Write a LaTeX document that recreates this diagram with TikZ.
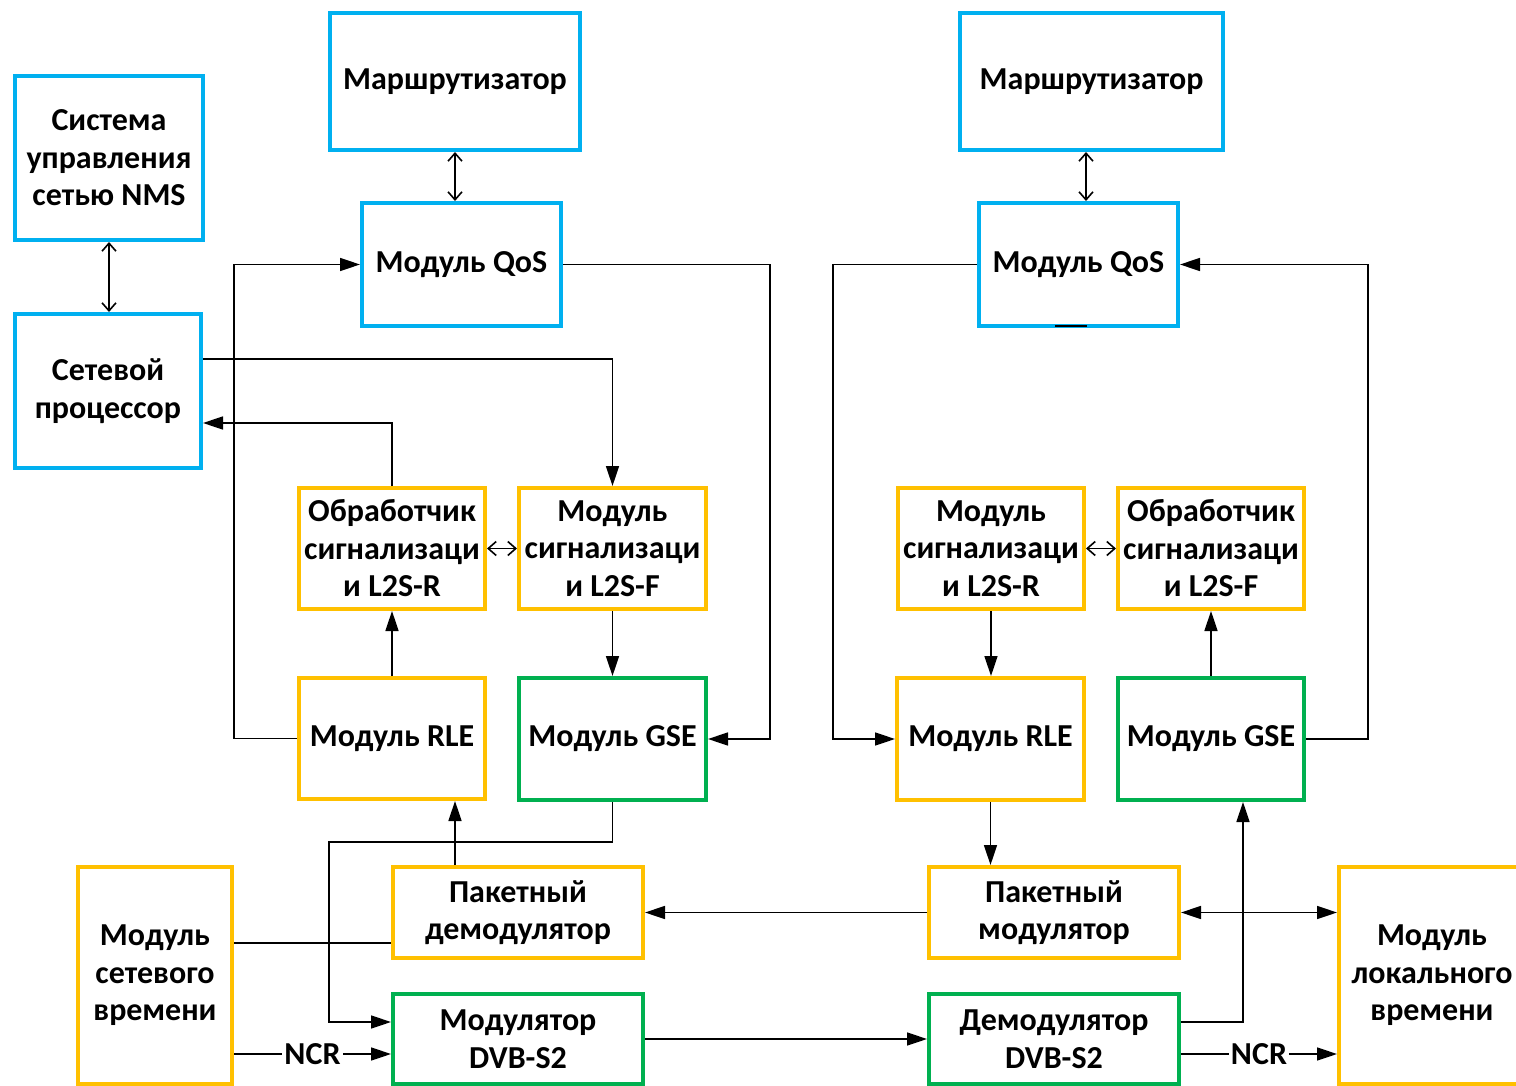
\documentclass[tikz,border=0pt]{standalone}
\usepackage{fontspec}
\setmainfont{Carlito}
\usetikzlibrary{arrows.meta,calc}
\definecolor{cblue}{HTML}{00B0F0}
\definecolor{corange}{HTML}{FFC000}
\definecolor{cgreen}{HTML}{00B050}
\begin{document}
\begin{tikzpicture}[x=0.5pt,y=-0.5pt,
 box/.style={draw,line width=2pt,fill=white,align=center,inner sep=0pt,font=\fontsize{16}{18.75}\selectfont\bfseries},
 bbox/.style={box,draw=cblue}, obox/.style={box,draw=corange}, gbox/.style={box,draw=cgreen},
 wire/.style={line width=0.8pt,draw=black},
 arr/.style={wire,-{Triangle[length=10pt,width=6.5pt]}},
 barr/.style={wire,{Triangle[length=10pt,width=6.5pt]}-{Triangle[length=10pt,width=6.5pt]}},
 dbl/.style={wire,{Straight Barb[length=4pt,width=7pt]}-{Straight Barb[length=4pt,width=7pt]}},
 lbl/.style={fill=white,inner sep=1pt,font=\fontsize{16}{18}\selectfont\bfseries}]
\useasboundingbox (0,0) rectangle (1516,1086);
\fill[white] (0,0) rectangle (1516,1086);
% boxes
\node[bbox,minimum width=94pt,minimum height=82pt] (nms) at (109,158) {Система\\управления\\сетью NMS};
\node[bbox,minimum width=93pt,minimum height=77pt] (np) at (108,391) {Сетевой\\процессор};
\node[bbox,minimum width=125pt,minimum height=68.5pt] (routerL) at (455,81.5) {Маршрутизатор};
\node[bbox,minimum width=99.5pt,minimum height=61.5pt] (qosL) at (461.5,264.5) {Модуль QoS};
\node[obox,minimum width=93pt,minimum height=60.5pt] (obrL) at (392,548.5) {Обработчик\\сигнализаци\\и L2S-R};
\node[obox,minimum width=93.5pt,minimum height=60.5pt] (sigL) at (612.5,548.5) {Модуль\\сигнализаци\\и L2S-F};
\node[obox,minimum width=93pt,minimum height=60.5pt] (rleL) at (392,738.5) {Модуль RLE};
\node[gbox,minimum width=93.5pt,minimum height=61pt] (gseL) at (612.5,739) {Модуль GSE};
\node[obox,minimum width=125pt,minimum height=45.5pt] (demodP) at (518,912.5) {Пакетный\\демодулятор};
\node[gbox,minimum width=125pt,minimum height=45pt] (modS2) at (518,1039) {Модулятор\\DVB-S2};
\node[obox,minimum width=77pt,minimum height=108.5pt] (ntime) at (155,975.5) {Модуль\\сетевого\\времени};
\node[bbox,minimum width=131.5pt,minimum height=68.5pt] (routerR) at (1091.5,81.5) {Маршрутизатор};
\node[bbox,minimum width=99.5pt,minimum height=61.5pt] (qosR) at (1078.5,264.5) {Модуль QoS};
\node[obox,minimum width=93pt,minimum height=60.5pt] (sigR) at (991,548.5) {Модуль\\сигнализаци\\и L2S-R};
\node[obox,minimum width=93pt,minimum height=60.5pt] (obrR) at (1211,548.5) {Обработчик\\сигнализаци\\и L2S-F};
\node[obox,minimum width=93.5pt,minimum height=61pt] (rleR) at (990.5,739) {Модуль RLE};
\node[gbox,minimum width=93pt,minimum height=61pt] (gseR) at (1211,739) {Модуль GSE};
\node[obox,minimum width=125pt,minimum height=45.5pt] (modP) at (1054,912.5) {Пакетный\\модулятор};
\node[gbox,minimum width=125pt,minimum height=45pt] (demodS2) at (1054,1039) {Демодулятор\\DVB-S2};
\node[obox,minimum width=93pt,minimum height=108.5pt] (ltime) at (1432,975.5) {Модуль\\локального\\времени};
% double open arrows
\draw[dbl] (nms.south) -- (nms.south |- np.north);
\draw[dbl] (routerL.south) -- (routerL.south |- qosL.north);
\draw[dbl] (1086,0 |- routerR.south) -- (1086,0 |- qosR.north);
\draw[dbl] (obrL.east) -- (sigL.west);
\draw[dbl] (sigR.east) -- (obrR.west);
% left side
\draw[arr] (rleL.west) -- ++(-63,0) |- (qosL.west);
\draw[arr] (qosL.east) -- (770,0 |- qosL.east) |- (gseL.east);
\draw[arr] (np.east |- 0,359) -| (sigL.north);
\draw[arr] (obrL.north) |- (np.east |- 0,423);
\draw[arr] (rleL.north) -- (obrL.south);
\draw[arr] (sigL.south) -- (gseL.north);
\draw[arr] (gseL.south) |- (329,842) |- (modS2.west |- 0,1022);
\draw[arr] (455,0 |- demodP.north) -- (455,0 |- rleL.south);
\draw[wire] (ntime.east |- 0,943) -- (demodP.west |- 0,943);
\draw[arr] (ntime.east |- 0,1054) -- node[lbl] (ncrL) {NCR} (modS2.west |- 0,1054);
\draw[arr] (modP.west) -- (demodP.east);
\draw[arr] (modS2.east) -- (demodS2.west);
% right side
\draw[arr] (qosR.west) -- (833,0 |- qosR.west) |- (rleR.west);
\draw[arr] (gseR.east) -- (1368,0 |- gseR.east) |- (qosR.east);
\draw[arr] (sigR.south) -- (sigR.south |- rleR.north);
\draw[arr] (gseR.north) -- (obrR.south);
\draw[arr] (rleR.south) -- (rleR.south |- modP.north);
\draw[arr] (demodS2.east |- 0,1022) -| (gseR.south -| 1243,0);
\draw[barr] (modP.east) -- (ltime.west |- modP.east);
\draw[arr] (demodS2.east |- 0,1054) -- node[lbl] (ncrR) {NCR} (ltime.west |- 0,1054);
\draw[wire] (1055,326) -- (1087,326);
\end{tikzpicture}
\end{document}
